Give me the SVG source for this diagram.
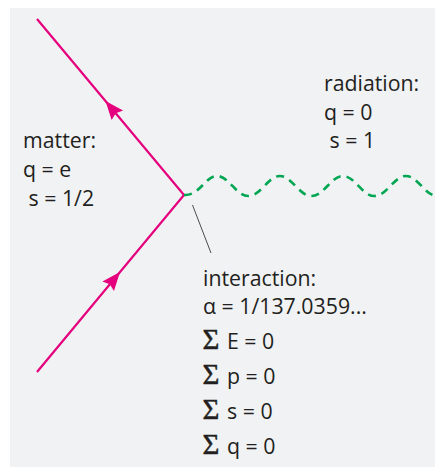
<svg xmlns="http://www.w3.org/2000/svg" width="435" height="468" viewBox="0 0 435 468">
<style>
.t{font-family:"Open Sans","Noto Sans",sans-serif;font-size:21.3px;fill:#231f20}
.sig{font-family:"Liberation Serif",serif;font-size:29px;fill:#231f20;stroke:#231f20;stroke-width:0.5}
.fermion{fill:none;stroke:#e5007d;stroke-width:2.2}
.photon{fill:none;stroke:#00a651;stroke-width:2.6;stroke-dasharray:8 6}
.lead{stroke:#231f20;stroke-width:0.8}
</style>
<defs>
<path id="ah" d="M0,0 L-18.5,-7.5 L-16,0 L-18.5,7.5 Z" fill="#e5007d"/>
</defs>
<rect x="0" y="0" width="435" height="468" fill="#ffffff"/>
<rect x="10" y="8" width="425" height="459" fill="#f1f2f4"/>
<g id="connectors">
<path class="fermion" d="M37,19 L184,195 L37,372"/>
<use href="#ah" transform="translate(105.5,101) rotate(-129.9)"/>
<use href="#ah" transform="translate(120,272) rotate(-50.3)"/>
<path class="photon" d="M184,195 C200,196 205,176 216.8,176 C229,176 236,196 248.3,196 C261,196 268,176 279.8,176 C292,176 299,196 311.3,196 C324,196 331,176 342.8,176 C355,176 362,196 374.3,196 C387,196 394,176 405.8,176 C418,176 425,196 437.3,196"/>
<line class="lead" x1="192.5" y1="205" x2="211" y2="253"/>
</g>
<g id="matter">
<text class="t" x="23" y="148">matter:</text>
<text class="t" x="23" y="177">q = e</text>
<text class="t" x="23" y="206" xml:space="preserve"> s = 1/2</text>
</g>
<g id="radiation">
<text class="t" x="324" y="91">radiation:</text>
<text class="t" x="324" y="120">q = 0</text>
<text class="t" x="324" y="148" xml:space="preserve"> s = 1</text>
</g>
<g id="interaction">
<text class="t" x="203" y="286">interaction:</text>
<text class="t" x="203" y="314">α = 1/137.0359...</text>
<text class="sig" x="202.5" y="349">Σ</text><text class="t" x="227" y="349">E = 0</text>
<text class="sig" x="202.5" y="384">Σ</text><text class="t" x="227" y="384">p = 0</text>
<text class="sig" x="202.5" y="419">Σ</text><text class="t" x="227" y="419">s = 0</text>
<text class="sig" x="202.5" y="454">Σ</text><text class="t" x="227" y="454">q = 0</text>
</g>
</svg>
